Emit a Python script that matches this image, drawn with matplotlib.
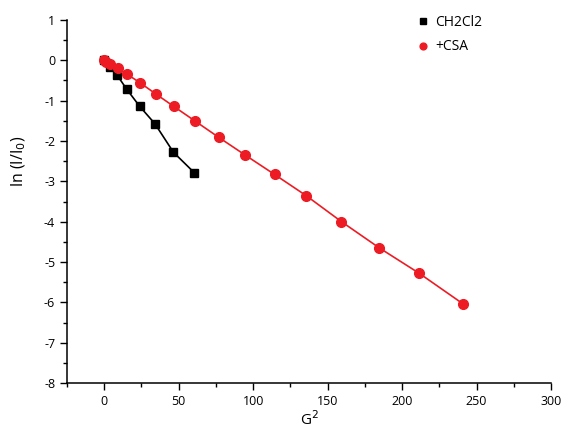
import numpy as np
import matplotlib.pyplot as plt
from matplotlib.ticker import MultipleLocator

plt.rcParams['font.family'] = ['Open Sans', 'DejaVu Sans']
plt.rcParams['axes.unicode_minus'] = False

# gradient squared vs log signal attenuation
g2_ch2cl2 = [0, 3.8, 8.5, 15.2, 23.8, 34.0, 46.5, 60.6]
ln_ch2cl2 = [0, -0.17, -0.36, -0.72, -1.14, -1.57, -2.28, -2.79]

g2_csa = [0, 1.5, 4.2, 9.0, 15.6, 24.2, 34.5, 46.6, 60.8, 76.9, 94.3,
          114.4, 135.8, 159.3, 184.7, 211.5, 241.0]
ln_csa = [0, -0.05, -0.1, -0.2, -0.35, -0.56, -0.83, -1.14, -1.50, -1.91,
          -2.34, -2.83, -3.36, -4.00, -4.65, -5.28, -6.04]

red = '#ED1C24'

fig = plt.figure(figsize=(5.7, 4.28), dpi=100)
ax = fig.add_axes([0.1175, 0.1051, 0.8492, 0.8482])

ax.plot(g2_ch2cl2, ln_ch2cl2, '-s', color='black', lw=1.2, ms=6,
        label='CH2Cl2', zorder=3)
ax.plot(g2_csa, ln_csa, '-o', color=red, lw=1.2, ms=7,
        label='+CSA', zorder=4)

ax.set_xlim(-25, 300)
ax.set_ylim(-8, 1)
ax.xaxis.set_major_locator(MultipleLocator(50))
ax.xaxis.set_minor_locator(MultipleLocator(25))
ax.yaxis.set_major_locator(MultipleLocator(1))
ax.yaxis.set_minor_locator(MultipleLocator(0.5))
ax.tick_params(which='major', direction='out', length=5, width=1, labelsize=9)
ax.tick_params(which='minor', direction='out', length=3, width=1)

for s in ('top', 'right'):
    ax.spines[s].set_visible(False)
for s in ('left', 'bottom'):
    ax.spines[s].set_linewidth(1.1)

ax.set_xlabel('G$^2$', fontsize=11, labelpad=2)
ax.set_ylabel('ln (I/I$_0$)', fontsize=11.5)
ax.yaxis.set_label_coords(-0.081, 0.61)

ax.legend(loc='upper left', bbox_to_anchor=(0.698, 1.049), frameon=False,
          fontsize=10, handlelength=0.8, handletextpad=0.5, labelspacing=0.7,
          numpoints=1, markerscale=0.7)
# legend shows markers only
leg = ax.get_legend()
for h in leg.legend_handles:
    h.set_linestyle('none')

fig.savefig('out.png', dpi=100)
